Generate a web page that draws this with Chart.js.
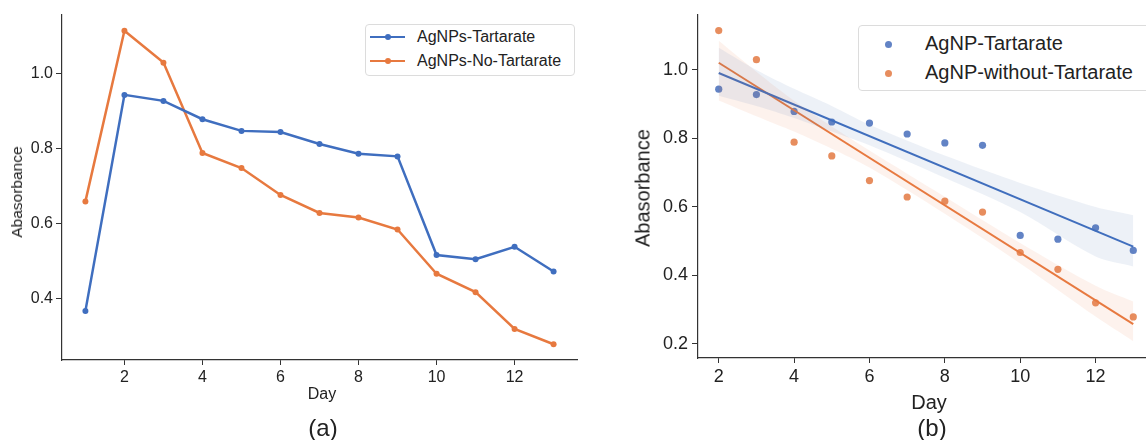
<!DOCTYPE html>
<html>
<head>
<meta charset="utf-8">
<script src="https://cdn.jsdelivr.net/npm/chart.js@4/dist/chart.umd.min.js"></script>
<style>
  html, body { margin: 0; padding: 0; background: #fff; width: 1146px; height: 440px; overflow: hidden; }
  body { position: relative; font-family: 'Liberation Sans', Arial, sans-serif; color: #222; }
  .panel { position: absolute; top: 0; }
  .txt { position: absolute; white-space: nowrap; color: #222; }
  .rot { transform: translate(-50%, -50%) rotate(-90deg); }
  .ctr { transform: translate(-50%, -50%); }
  .legend { position: absolute; background: #fff; border: 1px solid #dcdcdc; border-radius: 4px; }
  .legend .row { position: absolute; left: 0; white-space: nowrap; }
</style>
</head>
<body>

<div class="panel" style="left:0;width:581px;height:440px"><canvas id="chart-a" width="581" height="440"></canvas></div>
<div class="panel" style="left:590px;width:568px;height:440px"><canvas id="chart-b" width="568" height="440"></canvas></div>

<div class="txt rot" style="left:17px;top:192px;font-size:15.5px">Abasorbance</div>
<div class="txt ctr" style="left:322px;top:394px;font-size:16px">Day</div>
<div class="txt ctr" style="left:323px;top:428px;font-size:24px">(a)</div>

<div class="txt rot" style="left:643px;top:188px;font-size:20px">Abasorbance</div>
<div class="txt ctr" style="left:929px;top:402px;font-size:20px">Day</div>
<div class="txt ctr" style="left:932px;top:428px;font-size:24px">(b)</div>

<div id="legend-a" class="legend" style="left:365px;top:24px;width:208px;height:50px"></div>
<div id="legend-b" class="legend" style="left:858px;top:25px;width:300px;height:64px"></div>

<script>
// ── Datos: absorbancia diaria ────────────────────────────────────────────────
const DAYS      = [1, 2, 3, 4, 5, 6, 7, 8, 9, 10, 11, 12, 13];
const ABS_TART  = [0.368, 0.944, 0.928, 0.879, 0.848, 0.845, 0.813, 0.787, 0.780, 0.517, 0.506, 0.539, 0.473];
const ABS_NOTAR = [0.660, 1.115, 1.030, 0.789, 0.749, 0.677, 0.629, 0.617, 0.585, 0.467, 0.418, 0.320, 0.279];

const LABELS_A = ['AgNPs-Tartarate', 'AgNPs-No-Tartarate'];
const LABELS_B = ['AgNP-Tartarate', 'AgNP-without-Tartarate'];

// ajuste lineal (extremos) y banda de confianza
const FIT_DAYS      = [2, 13];
const FIT_TART      = [0.991, 0.484];
const FIT_NOTAR     = [1.021, 0.258];
const BAND_DAYS     = [2, 3, 4, 5, 6, 8, 10, 12, 13];
const BAND_TART_HI  = [1.065, 1.000, 0.945, 0.895, 0.840, 0.750, 0.670, 0.600, 0.576];
const BAND_TART_LO  = [0.925, 0.895, 0.860, 0.820, 0.780, 0.685, 0.585, 0.455, 0.426];
const BAND_NOTAR_HI = [1.085, 0.995, 0.910, 0.835, 0.765, 0.630, 0.495, 0.370, 0.324];
const BAND_NOTAR_LO = [0.911, 0.865, 0.820, 0.770, 0.715, 0.580, 0.435, 0.280, 0.208];

const TICKS_Y_A = [0.4, 0.6, 0.8, 1.0];
const TICKS_Y_B = [0.2, 0.4, 0.6, 0.8, 1.0];
const TICKS_X   = [2, 4, 6, 8, 10, 12];

// ── Colores ──────────────────────────────────────────────────────────────────
const BLUE       = '#3f6ebf';
const ORANGE     = '#e7793f';
const BLUE_PT    = '#6283c5';
const ORANGE_PT  = '#e78d5e';
const BLUE_BAND  = 'rgba(76,114,176,0.10)';
const ORANGE_BAND= 'rgba(232,130,80,0.10)';
const AXIS       = '#333';

Chart.defaults.font.family = "'Liberation Sans', Arial, sans-serif";
Chart.defaults.color = '#222';

const xy = (xs, ys) => xs.map((x, i) => ({ x, y: ys[i] }));

function axes(opt) {
  return {
    x: {
      type: 'linear', min: opt.xmin, max: opt.xmax,
      afterBuildTicks: s => { s.ticks = TICKS_X.map(v => ({ value: v })); },
      afterFit: s => { s.height = opt.xh; },
      border: { display: true, color: AXIS, width: 1.2 },
      grid: { drawOnChartArea: false, drawTicks: true, tickLength: 5, color: AXIS },
      ticks: { font: { size: opt.fs }, padding: opt.xpad, color: '#222', maxRotation: 0 },
    },
    y: {
      min: opt.ymin, max: opt.ymax,
      afterBuildTicks: s => { s.ticks = opt.yticks.map(v => ({ value: v })); },
      afterFit: s => { s.width = opt.yw; },
      border: { display: true, color: AXIS, width: 1.2 },
      grid: { drawOnChartArea: false, drawTicks: true, tickLength: 6, color: AXIS },
      ticks: { font: { size: opt.fs }, padding: opt.ypad, color: '#222', callback: v => v.toFixed(1) },
    },
  };
}

// ── (a) Serie temporal ───────────────────────────────────────────────────────
new Chart(document.getElementById('chart-a'), {
  type: 'line',
  data: {
    datasets: [
      { label: LABELS_A[0], data: xy(DAYS, ABS_TART),  borderColor: BLUE,   backgroundColor: BLUE,
        borderWidth: 2.5, pointRadius: 3, pointBorderWidth: 0, tension: 0 },
      { label: LABELS_A[1], data: xy(DAYS, ABS_NOTAR), borderColor: ORANGE, backgroundColor: ORANGE,
        borderWidth: 2.5, pointRadius: 3, pointBorderWidth: 0, tension: 0 },
    ]
  },
  options: {
    responsive: false, animation: false,
    layout: { padding: { top: 15, left: 0, right: 0, bottom: 0 } },
    plugins: { legend: { display: false }, tooltip: { enabled: false } },
    scales: axes({ xmin: 0.4, xmax: 13.6, ymin: 0.237, ymax: 1.157, yticks: TICKS_Y_A,
                   xh: 80, yw: 62, fs: 16, xpad: 3, ypad: 3 }),
  }
});

// ── (b) Dispersión + regresión ──────────────────────────────────────────────
const band = (hi, lo, color) => [
  { type: 'line', data: xy(BAND_DAYS, hi), borderWidth: 0, borderColor: 'transparent',
    pointRadius: 0, fill: '+1', backgroundColor: color, tension: 0.3 },
  { type: 'line', data: xy(BAND_DAYS, lo), borderWidth: 0, borderColor: 'transparent',
    pointRadius: 0, fill: false, tension: 0.3 },
];

new Chart(document.getElementById('chart-b'), {
  type: 'scatter',
  data: {
    datasets: [
      ...band(BAND_TART_HI, BAND_TART_LO, BLUE_BAND),
      ...band(BAND_NOTAR_HI, BAND_NOTAR_LO, ORANGE_BAND),
      { type: 'line', data: xy(FIT_DAYS, FIT_TART),  borderColor: BLUE,   borderWidth: 2, pointRadius: 0 },
      { type: 'line', data: xy(FIT_DAYS, FIT_NOTAR), borderColor: ORANGE, borderWidth: 2, pointRadius: 0 },
      { label: LABELS_B[0], data: xy(DAYS.slice(1), ABS_TART.slice(1)),
        backgroundColor: BLUE_PT, pointRadius: 3.6, pointBorderWidth: 0 },
      { label: LABELS_B[1], data: xy(DAYS.slice(1), ABS_NOTAR.slice(1)),
        backgroundColor: ORANGE_PT, pointRadius: 3.6, pointBorderWidth: 0 },
    ]
  },
  options: {
    responsive: false, animation: false,
    layout: { padding: { top: 14, left: 0, right: 0, bottom: 0 } },
    plugins: { legend: { display: false }, tooltip: { enabled: false }, filler: { propagate: false } },
    scales: axes({ xmin: 1.45, xmax: 13.55, ymin: 0.159, ymax: 1.161, yticks: TICKS_Y_B,
                   xh: 82, yw: 108, fs: 18, xpad: 3, ypad: 4 }),
  }
});

// ── Leyendas ────────────────────────────────────────────────────────────────
function legendRows(el, labels, colors, kind, opt) {
  labels.forEach((lab, i) => {
    const row = document.createElement('div');
    row.className = 'row';
    row.style.top = (opt.y0 + i * opt.dy) + 'px';
    row.style.height = '0px';
    const c = colors[i];
    if (kind === 'line') {
      row.innerHTML =
        `<span style="position:absolute;left:${opt.sx}px;top:-1.25px;width:35px;height:2.5px;background:${c}"></span>` +
        `<span style="position:absolute;left:${opt.sx + 14.5}px;top:-3px;width:6px;height:6px;border-radius:50%;background:${c}"></span>`;
    } else {
      row.innerHTML =
        `<span style="position:absolute;left:${opt.sx - 3.5}px;top:-3.5px;width:7px;height:7px;border-radius:50%;background:${c}"></span>`;
    }
    const t = document.createElement('span');
    t.textContent = lab;
    t.style.cssText = `position:absolute;left:${opt.tx}px;top:${-opt.fs * 0.58}px;font-size:${opt.fs}px;line-height:1.15;color:#222`;
    row.appendChild(t);
    el.appendChild(row);
  });
}

legendRows(document.getElementById('legend-a'), LABELS_A, [BLUE, ORANGE], 'line',
  { y0: 12, dy: 24, sx: 4, tx: 51, fs: 16 });
legendRows(document.getElementById('legend-b'), LABELS_B, [BLUE_PT, ORANGE_PT], 'dot',
  { y0: 18, dy: 29, sx: 29, tx: 66, fs: 20 });
</script>
</body>
</html>
